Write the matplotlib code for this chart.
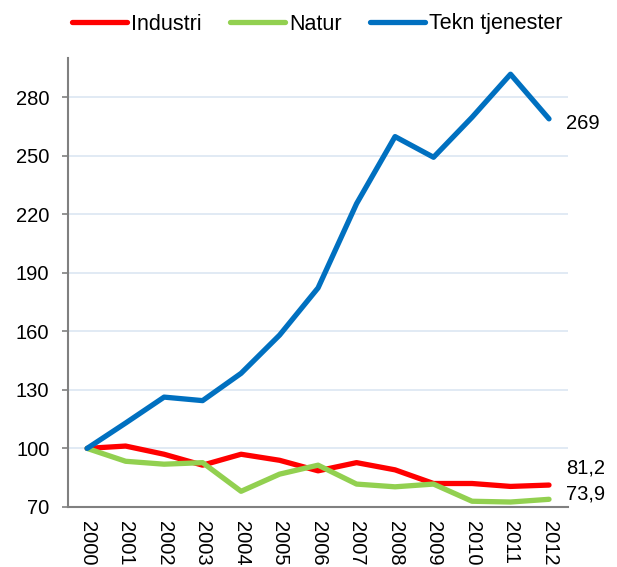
import matplotlib
matplotlib.use("Agg")
from matplotlib import pyplot as plt

# data (index, 2000 = 100)
years = [str(y) for y in range(2000, 2013)]
industri = [100, 101.2, 97, 91.4, 97, 93.9, 88.5, 92.7, 89, 82, 82, 80.5, 81.2]
natur = [100, 93.4, 91.9, 92.7, 78.0, 86.8, 91.4, 81.7, 80.3, 81.7, 72.9, 72.5, 73.9]
tekn = [100, 113, 126.3, 124.5, 138.5, 158.1, 182.3, 225.5, 259.9, 249.3, 269.8, 291.9, 269]
yticks = [70, 100, 130, 160, 190, 220, 250, 280]

plt.rcParams['font.family'] = ['Liberation Sans', 'DejaVu Sans']

fig = plt.figure(figsize=(6.17, 5.67), dpi=100)
ax = fig.add_axes([0.110, 0.106, 0.811, 0.791])

x = range(len(years))
ax.plot(x, industri, color='#ff0000', lw=3.8, label='Industri', solid_capstyle='round', zorder=3)
ax.plot(x, natur, color='#92d050', lw=3.8, label='Natur', solid_capstyle='round', zorder=3)
ax.plot(x, tekn, color='#0070c0', lw=3.8, label='Tekn tjenester', solid_capstyle='round', zorder=3)

# end labels
for vals, txt, dy in [(tekn, '269', -3), (industri, '81,2', 12), (natur, '73,9', 4)]:
    ax.annotate(txt, (x[-1], vals[-1]), xytext=(12, dy), textcoords='offset points',
                va='center', ha='left', fontsize=14.5, annotation_clip=False)

ax.set_xlim(-0.5, len(years) - 0.5)
ax.set_ylim(70, 300)
ax.set_yticks(yticks)
ax.set_xticks(list(x))
ax.set_xticklabels(years, rotation=270, fontsize=14.5)
ax.tick_params(axis='y', labelsize=14.5, color='#808080', length=4.3, width=1.2, pad=9)
ax.tick_params(axis='x', length=0, pad=10)
ax.grid(axis='y', color='#dce6f2', lw=1.2)
ax.set_axisbelow(True)
for s in ['top', 'right']:
    ax.spines[s].set_visible(False)
for s in ['left', 'bottom']:
    ax.spines[s].set_color('#808080')
    ax.spines[s].set_linewidth(1.5)

fig.legend(loc='center left', bbox_to_anchor=(72 / 617, 1 - 24 / 567), ncol=3, frameon=False,
           fontsize=15.5, handlelength=2.55, handletextpad=0.2, columnspacing=1.3,
           borderpad=0, borderaxespad=0)

fig.savefig('out.png', dpi=100)
